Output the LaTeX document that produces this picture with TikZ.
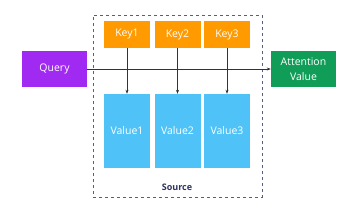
\documentclass[tikz,border=0pt]{standalone}
\usepackage{fontspec}
\setmainfont{Open Sans}
\usetikzlibrary{arrows.meta}
\definecolor{qpurple}{HTML}{A02AF2}
\definecolor{korange}{HTML}{FF9A00}
\definecolor{vblue}{HTML}{4FC3F7}
\definecolor{agreen}{HTML}{109D58}
\definecolor{snavy}{HTML}{2E3163}
\definecolor{dgray}{HTML}{55607A}
\begin{document}
\begin{tikzpicture}[x=1pt,y=-1pt,
  box/.style={draw=none,inner sep=0pt,text=white,font=\fontsize{10.5}{15}\selectfont,align=center},
  keybox/.style={box,fill=korange,minimum width=46pt,minimum height=27pt},
  valbox/.style={box,fill=vblue,minimum width=46pt,minimum height=74pt},
  sidebox/.style={box,minimum width=65pt,minimum height=36pt},
  conn/.style={draw=black!80,line width=0.6pt,-{Stealth[length=4pt,width=3pt]}}]
\useasboundingbox (0,0) rectangle (358,209);
\node[draw=dgray,dashed,line width=0.7pt,minimum width=169pt,minimum height=182pt,inner sep=0pt] (src) at (177.5,106) {};
\node[keybox] (k1) at (127,34.5) {Key1};
\node[keybox] (k2) at (177.5,34.5) {Key2};
\node[keybox] (k3) at (227,34.5) {Key3};
\node[valbox] (v1) at (127,131) {Value1};
\node[valbox] (v2) at (177.5,131) {Value2};
\node[valbox] (v3) at (227,131) {Value3};
\node[sidebox,fill=qpurple] (q) at (54.5,69) {Query};
\node[sidebox,fill=agreen] (a) at (303.5,69) {Attention\\Value};
\node[font=\bfseries\fontsize{9}{10}\selectfont,text=snavy] (s) at (177,187) {Source};
\draw[conn] (q.east) -- (a.west);
\draw[conn] (k1.south) -- (v1.north);
\draw[conn] (k2.south) -- (v2.north);
\draw[conn] (k3.south) -- (v3.north);
\end{tikzpicture}
\end{document}
